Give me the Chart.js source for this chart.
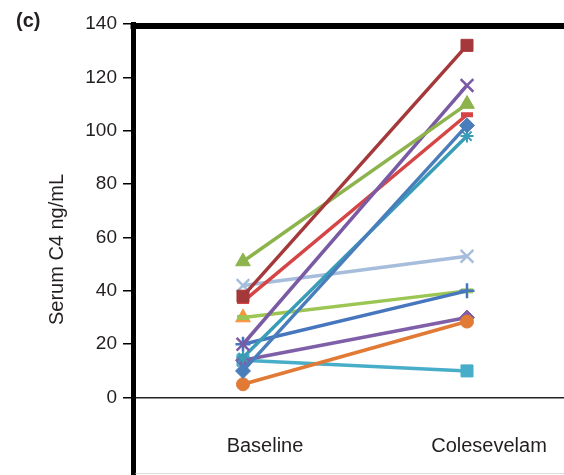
<!DOCTYPE html>
<html>
<head>
<meta charset="utf-8">
<script src="https://cdn.jsdelivr.net/npm/chart.js@4.4.1/dist/chart.umd.min.js"></script>
<style>
  html, body { margin: 0; padding: 0; background: #fff; }
  #wrap { width: 564px; height: 475px; }
</style>
</head>
<body>
<div id="wrap"><canvas id="c4" width="564" height="475"></canvas></div>
<script>
const categories = ['Baseline', 'Colesevelam'];
const yTicks = [0, 20, 40, 60, 80, 100, 120, 140];

// serum C4 (ng/mL) per patient, before and after treatment
const baseline = [10, 38, 51, 20, 15, 5, 20, 36, 30, 14, 14, 30, 42];
const colesevelam = [102, 132, 110, 117, 98, 28.5, 40, 106, 40, 30, 10, null, 53];

const colors = ['#4a7ebb', '#a5383a', '#8db34c', '#7a5aa3', '#3a9db8', '#e17a35', '#4676be',
  '#d64545', '#9cc653', '#7e5fa8', '#48adc8', '#f7953f', '#a7bddc'];
const markers = ['rectRot', 'rect', 'triangle', 'crossRot', 'star', 'circle', 'cross',
  'line', 'line', 'rectRot', 'rect', 'triangle', 'crossRot'];

const markerSize = {
  rect: [8.5, 1], rectRot: [7.5, 1], triangle: [8.5, 1], circle: [6.5, 1],
  crossRot: [9, 2.5], cross: [7.5, 2.5], star: [6.5, 2], line: [6, 5],
};

const textColor = '#231f20';
const family = '"Liberation Sans", Arial, Helvetica, sans-serif';

const frame = {
  id: 'frame',
  afterDraw(chart) {
    const { ctx, chartArea: { left, top, right, bottom } } = chart;
    ctx.save();
    ctx.fillStyle = '#000';
    ctx.fillRect(left - 2.5, top - 1, right - left + 2.5, 6);
    ctx.fillStyle = '#dcdcdc';
    ctx.fillRect(left + 2.5, bottom - 2, right - left, 1);
    ctx.fillStyle = textColor;
    ctx.font = 'bold 20px ' + family;
    ctx.textBaseline = 'middle';
    ctx.fillText('(c)', 16, 21);
    ctx.restore();
  },
};

const datasets = baseline.map((b, i) => {
  const [r, w] = markerSize[markers[i]];
  return {
    data: [{ x: 0, y: b }, { x: 1, y: colesevelam[i] }],
    borderColor: colors[i],
    backgroundColor: colors[i],
    borderWidth: 3.5,
    pointStyle: markers[i],
    pointRadius: r,
    pointBorderWidth: w,
    pointBackgroundColor: colors[i],
    pointBorderColor: colors[i],
  };
});

new Chart(document.getElementById('c4'), {
  type: 'line',
  data: { datasets },
  options: {
    responsive: false,
    animation: false,
    devicePixelRatio: 1,
    layout: { autoPadding: false, padding: { top: 24, left: 0, right: 0, bottom: 0 } },
    plugins: {
      legend: { display: false },
      tooltip: { enabled: false },
    },
    scales: {
      x: {
        type: 'linear',
        min: -0.491,
        max: 1.433,
        position: { y: 0 },
        grid: { display: false, drawTicks: false },
        border: { display: false },
        afterBuildTicks: (axis) => {
          axis.ticks = categories.map((_, i) => ({ value: i }));
        },
        afterFit: (scale) => {
          scale.paddingLeft = 0;
          scale.paddingRight = 0;
        },
        ticks: {
          callback: (v) => categories[v] ?? '',
          labelOffset: 22,
          padding: 37,
          maxRotation: 0,
          color: textColor,
          font: { family, size: 20 },
        },
      },
      y: {
        min: -29,
        max: 140,
        afterBuildTicks: (axis) => {
          axis.ticks = yTicks.map((v) => ({ value: v }));
        },
        afterFit: (scale) => {
          scale.width = 133;
          scale.paddingTop = 0;
          scale.paddingBottom = 0;
        },
        grid: {
          color: (ctx) => (ctx.tick && ctx.tick.value === 0 ? '#222' : 'rgba(0,0,0,0)'),
          lineWidth: 1.5,
          tickColor: '#000',
          tickLength: 10,
          tickWidth: 1.5,
        },
        border: { color: '#000', width: 5 },
        ticks: {
          padding: 6,
          color: textColor,
          font: { family, size: 19 },
        },
        title: {
          display: true,
          text: 'Serum C4 ng/mL',
          color: textColor,
          font: { family, size: 20 },
          padding: { top: 45, bottom: 0 },
        },
      },
    },
  },
  plugins: [frame],
});
</script>
</body>
</html>
